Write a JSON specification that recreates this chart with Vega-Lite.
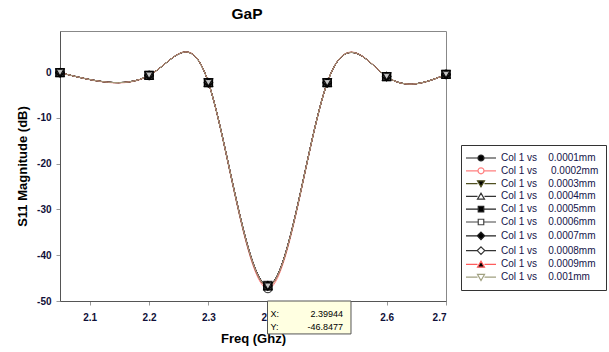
{
  "$schema": "https://vega.github.io/schema/vega-lite/v6.json",
  "width": 386,
  "height": 270,
  "autosize": {"type": "none"},
  "padding": {"left": 60, "top": 31, "right": 163, "bottom": 51},
  "background": "white",
  "title": {
    "text": "GaP",
    "font": "Liberation Sans",
    "fontSize": 15.5,
    "fontWeight": "bold",
    "color": "#000000",
    "anchor": "middle",
    "baseline": "alphabetic",
    "offset": 13,
    "dx": -6,
    "dy": 16
  },
  "config": {
    "view": {"stroke": "#888888", "strokeWidth": 1},
    "axis": {
      "grid": false,
      "labelFont": "Liberation Sans",
      "labelFontSize": 10,
      "labelFontWeight": "bold",
      "labelColor": "#101038",
      "tickColor": "#999999",
      "tickSize": 4,
      "domainColor": "#555555",
      "titleFont": "Liberation Sans",
      "titleFontSize": 13,
      "titleFontWeight": "bold",
      "titleColor": "#000000"
    }
  },
  "datasets": {
    "curves": [
      {"series": "0.0001mm", "freq": 2.05, "s11": -0.1},
      {"series": "0.0001mm", "freq": 2.2, "s11": -0.7},
      {"series": "0.0001mm", "freq": 2.3, "s11": -2.3},
      {"series": "0.0001mm", "freq": 2.39944, "s11": -46.8477},
      {"series": "0.0001mm", "freq": 2.5, "s11": -2.3},
      {"series": "0.0001mm", "freq": 2.6, "s11": -0.95},
      {"series": "0.0001mm", "freq": 2.7, "s11": -0.5},
      {"series": "0.0002mm", "freq": 2.05, "s11": -0.1},
      {"series": "0.0002mm", "freq": 2.2, "s11": -0.75},
      {"series": "0.0002mm", "freq": 2.3, "s11": -2.3},
      {"series": "0.0002mm", "freq": 2.4, "s11": -47.3},
      {"series": "0.0002mm", "freq": 2.5, "s11": -2.3},
      {"series": "0.0002mm", "freq": 2.6, "s11": -0.95},
      {"series": "0.0002mm", "freq": 2.7, "s11": -0.5},
      {"series": "0.0003mm", "freq": 2.05, "s11": -0.1},
      {"series": "0.0003mm", "freq": 2.2, "s11": -0.7},
      {"series": "0.0003mm", "freq": 2.3, "s11": -2.3},
      {"series": "0.0003mm", "freq": 2.4, "s11": -46.8},
      {"series": "0.0003mm", "freq": 2.5, "s11": -2.3},
      {"series": "0.0003mm", "freq": 2.6, "s11": -0.95},
      {"series": "0.0003mm", "freq": 2.7, "s11": -0.5},
      {"series": "0.0004mm", "freq": 2.05, "s11": -0.1},
      {"series": "0.0004mm", "freq": 2.2, "s11": -0.7},
      {"series": "0.0004mm", "freq": 2.3, "s11": -2.3},
      {"series": "0.0004mm", "freq": 2.4, "s11": -46.7},
      {"series": "0.0004mm", "freq": 2.5, "s11": -2.3},
      {"series": "0.0004mm", "freq": 2.6, "s11": -0.95},
      {"series": "0.0004mm", "freq": 2.7, "s11": -0.5},
      {"series": "0.0005mm", "freq": 2.05, "s11": -0.1},
      {"series": "0.0005mm", "freq": 2.2, "s11": -0.7},
      {"series": "0.0005mm", "freq": 2.3, "s11": -2.3},
      {"series": "0.0005mm", "freq": 2.4, "s11": -46.6},
      {"series": "0.0005mm", "freq": 2.5, "s11": -2.3},
      {"series": "0.0005mm", "freq": 2.6, "s11": -0.95},
      {"series": "0.0005mm", "freq": 2.7, "s11": -0.5},
      {"series": "0.0006mm", "freq": 2.05, "s11": -0.1},
      {"series": "0.0006mm", "freq": 2.2, "s11": -0.7},
      {"series": "0.0006mm", "freq": 2.3, "s11": -2.3},
      {"series": "0.0006mm", "freq": 2.4, "s11": -46.7},
      {"series": "0.0006mm", "freq": 2.5, "s11": -2.3},
      {"series": "0.0006mm", "freq": 2.6, "s11": -0.95},
      {"series": "0.0006mm", "freq": 2.7, "s11": -0.5},
      {"series": "0.0007mm", "freq": 2.05, "s11": -0.1},
      {"series": "0.0007mm", "freq": 2.2, "s11": -0.7},
      {"series": "0.0007mm", "freq": 2.3, "s11": -2.3},
      {"series": "0.0007mm", "freq": 2.4, "s11": -46.6},
      {"series": "0.0007mm", "freq": 2.5, "s11": -2.3},
      {"series": "0.0007mm", "freq": 2.6, "s11": -0.95},
      {"series": "0.0007mm", "freq": 2.7, "s11": -0.5},
      {"series": "0.0008mm", "freq": 2.05, "s11": -0.1},
      {"series": "0.0008mm", "freq": 2.2, "s11": -0.7},
      {"series": "0.0008mm", "freq": 2.3, "s11": -2.3},
      {"series": "0.0008mm", "freq": 2.4, "s11": -46.7},
      {"series": "0.0008mm", "freq": 2.5, "s11": -2.3},
      {"series": "0.0008mm", "freq": 2.6, "s11": -0.95},
      {"series": "0.0008mm", "freq": 2.7, "s11": -0.5},
      {"series": "0.0009mm", "freq": 2.05, "s11": -0.1},
      {"series": "0.0009mm", "freq": 2.2, "s11": -0.7},
      {"series": "0.0009mm", "freq": 2.3, "s11": -2.3},
      {"series": "0.0009mm", "freq": 2.4, "s11": -46.8},
      {"series": "0.0009mm", "freq": 2.5, "s11": -2.3},
      {"series": "0.0009mm", "freq": 2.6, "s11": -0.95},
      {"series": "0.0009mm", "freq": 2.7, "s11": -0.5},
      {"series": "0.001mm", "freq": 2.05, "s11": -0.1},
      {"series": "0.001mm", "freq": 2.2, "s11": -0.7},
      {"series": "0.001mm", "freq": 2.3, "s11": -2.3},
      {"series": "0.001mm", "freq": 2.4, "s11": -46.8},
      {"series": "0.001mm", "freq": 2.5, "s11": -2.3},
      {"series": "0.001mm", "freq": 2.6, "s11": -0.95},
      {"series": "0.001mm", "freq": 2.7, "s11": -0.5}
    ],
    "readout": [{"x": 2.39944, "y": -46.8477}]
  },
  "layer": [
    {
      "data": {"name": "curves"},
      "mark": {"type": "line", "interpolate": "natural", "strokeWidth": 1},
      "encoding": {
        "x": {
          "field": "freq", "type": "quantitative",
          "scale": {"domain": [2.05, 2.7], "nice": false, "zero": false},
          "axis": {"title": "Freq (Ghz)", "values": [2.1, 2.2, 2.3, 2.4, 2.5, 2.6, 2.7], "format": ".1f", "labelPadding": 7, "titlePadding": 10}
        },
        "y": {
          "field": "s11", "type": "quantitative",
          "scale": {"domain": [-50, 9], "nice": false, "zero": false},
          "axis": {"title": "S11 Magnitude (dB)", "values": [-50, -40, -30, -20, -10, 0], "labelExpr": "'' + datum.value", "labelPadding": 5, "titlePadding": 7}
        },
        "color": {
          "field": "series", "type": "nominal",
          "scale": {
            "domain": ["0.0001mm", "0.0002mm", "0.0003mm", "0.0004mm", "0.0005mm", "0.0006mm", "0.0007mm", "0.0008mm", "0.0009mm", "0.001mm"],
            "range": ["#222222", "#ff8080", "#505020", "#333333", "#222222", "#444444", "#222222", "#333333", "#ff5c5c", "#a0a080"]
          },
          "legend": null
        }
      }
    },
    {
      "data": {"name": "curves"},
      "mark": {"type": "point", "filled": true, "size": 64, "stroke": "#000000", "strokeWidth": 1.3},
      "encoding": {
        "x": {"field": "freq", "type": "quantitative"},
        "y": {"field": "s11", "type": "quantitative"},
        "shape": {
          "field": "series", "type": "nominal",
          "scale": {
            "domain": ["0.0001mm", "0.0002mm", "0.0003mm", "0.0004mm", "0.0005mm", "0.0006mm", "0.0007mm", "0.0008mm", "0.0009mm", "0.001mm"],
            "range": ["circle", "circle", "triangle-down", "triangle-up", "square", "square", "diamond", "diamond", "triangle-up", "triangle-down"]
          },
          "legend": null
        },
        "fill": {
          "field": "series", "type": "nominal",
          "scale": {
            "domain": ["0.0001mm", "0.0002mm", "0.0003mm", "0.0004mm", "0.0005mm", "0.0006mm", "0.0007mm", "0.0008mm", "0.0009mm", "0.001mm"],
            "range": ["#000000", "#ffffff", "#000000", "#ffffff", "#000000", "#ffffff", "#000000", "#ffffff", "#000000", "#ffffff"]
          },
          "legend": null
        }
      }
    },
    {
      "data": {"name": "curves"},
      "mark": {"type": "point", "filled": true, "size": 100, "opacity": 0, "strokeWidth": 1.2},
      "encoding": {
        "x": {"field": "freq", "type": "quantitative"},
        "y": {"field": "s11", "type": "quantitative"},
        "shape": {
          "field": "series", "type": "nominal",
          "scale": {
            "domain": ["0.0001mm", "0.0002mm", "0.0003mm", "0.0004mm", "0.0005mm", "0.0006mm", "0.0007mm", "0.0008mm", "0.0009mm", "0.001mm"],
            "range": [
              "M-3,0H-0.6M0.6,0H3M0.6,0A0.6,0.6,0,1,1,-0.6,0A0.6,0.6,0,1,1,0.6,0Z",
              "M-3,0H-0.6M0.6,0H3M0.6,0A0.6,0.6,0,1,1,-0.6,0A0.6,0.6,0,1,1,0.6,0Z",
              "M-3,0H-0.7M0.7,0H3M-0.7,-0.55H0.7L0,0.65Z",
              "M-3,0H-0.7M0.7,0H3M-0.7,0.55H0.7L0,-0.65Z",
              "M-3,0H-0.55M0.55,0H3M-0.55,-0.55H0.55V0.55H-0.55Z",
              "M-3,0H-0.55M0.55,0H3M-0.55,-0.55H0.55V0.55H-0.55Z",
              "M-3,0H-0.75M0.75,0H3M0,-0.75L0.75,0L0,0.75L-0.75,0Z",
              "M-3,0H-0.75M0.75,0H3M0,-0.75L0.75,0L0,0.75L-0.75,0Z",
              "M-3,0H-0.7M0.7,0H3M-0.7,0.55H0.7L0,-0.65Z",
              "M-3,0H-0.7M0.7,0H3M-0.7,-0.55H0.7L0,0.65Z"
            ]
          },
          "legend": {
            "title": null, "orient": "none", "legendX": 401, "legendY": 114,
            "padding": 7, "strokeColor": "#333333", "fillColor": "#ffffff",
            "symbolSize": 100, "symbolStrokeWidth": 1.2, "symbolOpacity": 1, "symbolOffset": 7,
            "labelOffset": 14, "rowPadding": 0.8,
            "labelFont": "Liberation Sans", "labelFontSize": 10, "labelColor": "#14144a",
            "labelExpr": "'Col 1 vs' + (datum.label == '0.0002mm' ? '\u00a0\u00a0\u00a0\u00a0\u00a0' : '\u00a0\u00a0\u00a0\u00a0') + datum.label",
            "encode": {"symbols": {"update": {"stroke": {"scale": "stroke", "field": "value"}, "strokeWidth": {"value": 1.2}}}}
          }
        },
        "fill": {
          "field": "series", "type": "nominal",
          "scale": {
            "domain": ["0.0001mm", "0.0002mm", "0.0003mm", "0.0004mm", "0.0005mm", "0.0006mm", "0.0007mm", "0.0008mm", "0.0009mm", "0.001mm"],
            "range": ["#000000", "#ffffff", "#000000", "#ffffff", "#000000", "#ffffff", "#000000", "#ffffff", "#000000", "#ffffff"]
          },
          "legend": {
            "title": null, "orient": "none", "legendX": 401, "legendY": 114,
            "padding": 7, "strokeColor": "#333333", "fillColor": "#ffffff",
            "symbolSize": 100, "symbolStrokeWidth": 1.2, "symbolOpacity": 1, "symbolOffset": 7,
            "labelOffset": 14, "rowPadding": 0.8,
            "labelFont": "Liberation Sans", "labelFontSize": 10, "labelColor": "#14144a",
            "labelExpr": "'Col 1 vs' + (datum.label == '0.0002mm' ? '\u00a0\u00a0\u00a0\u00a0\u00a0' : '\u00a0\u00a0\u00a0\u00a0') + datum.label",
            "encode": {"symbols": {"update": {"stroke": {"scale": "stroke", "field": "value"}, "strokeWidth": {"value": 1.2}}}}
          }
        },
        "stroke": {
          "field": "series", "type": "nominal",
          "scale": {
            "domain": ["0.0001mm", "0.0002mm", "0.0003mm", "0.0004mm", "0.0005mm", "0.0006mm", "0.0007mm", "0.0008mm", "0.0009mm", "0.001mm"],
            "range": ["#222222", "#ff8080", "#505020", "#333333", "#222222", "#444444", "#222222", "#333333", "#ff5c5c", "#a0a080"]
          },
          "legend": {
            "title": null, "orient": "none", "legendX": 401, "legendY": 114,
            "padding": 7, "strokeColor": "#333333", "fillColor": "#ffffff",
            "symbolSize": 100, "symbolStrokeWidth": 1.2, "symbolOpacity": 1, "symbolOffset": 7,
            "labelOffset": 14, "rowPadding": 0.8,
            "labelFont": "Liberation Sans", "labelFontSize": 10, "labelColor": "#14144a",
            "labelExpr": "'Col 1 vs' + (datum.label == '0.0002mm' ? '\u00a0\u00a0\u00a0\u00a0\u00a0' : '\u00a0\u00a0\u00a0\u00a0') + datum.label",
            "encode": {"symbols": {"update": {"stroke": {"scale": "stroke", "field": "value"}, "strokeWidth": {"value": 1.2}}}}
          }
        }
      }
    },
    {
      "data": {"name": "readout"},
      "layer": [
        {
          "mark": {"type": "rect", "fill": "#ffffe1", "stroke": "#555555", "strokeWidth": 1, "clip": false},
          "encoding": {
            "x": {"field": "x", "type": "quantitative"},
            "x2": {"datum": 2.54},
            "y": {"datum": -50},
            "y2": {"datum": -57.2}
          }
        },
        {
          "mark": {"type": "text", "text": "X:", "align": "left", "baseline": "middle", "dx": 3, "dy": 12.5, "font": "Liberation Sans", "fontSize": 9, "color": "#000000", "clip": false},
          "encoding": {"x": {"field": "x", "type": "quantitative"}, "y": {"datum": -50}}
        },
        {
          "mark": {"type": "text", "text": "Y:", "align": "left", "baseline": "middle", "dx": 3, "dy": 25.5, "font": "Liberation Sans", "fontSize": 9, "color": "#000000", "clip": false},
          "encoding": {"x": {"field": "x", "type": "quantitative"}, "y": {"datum": -50}}
        },
        {
          "mark": {"type": "text", "align": "right", "baseline": "middle", "dx": -8, "dy": 12.5, "font": "Liberation Sans", "fontSize": 9, "color": "#000000", "clip": false},
          "encoding": {"x": {"datum": 2.54}, "y": {"datum": -50}, "text": {"field": "x", "type": "nominal"}}
        },
        {
          "mark": {"type": "text", "align": "right", "baseline": "middle", "dx": -8, "dy": 25.5, "font": "Liberation Sans", "fontSize": 9, "color": "#000000", "clip": false},
          "encoding": {"x": {"datum": 2.54}, "y": {"datum": -50}, "text": {"field": "y", "type": "nominal"}}
        }
      ]
    }
  ],
  "resolve": {
    "scale": {"shape": "independent", "fill": "independent"},
    "legend": {"shape": "independent", "fill": "independent"}
  }
}
